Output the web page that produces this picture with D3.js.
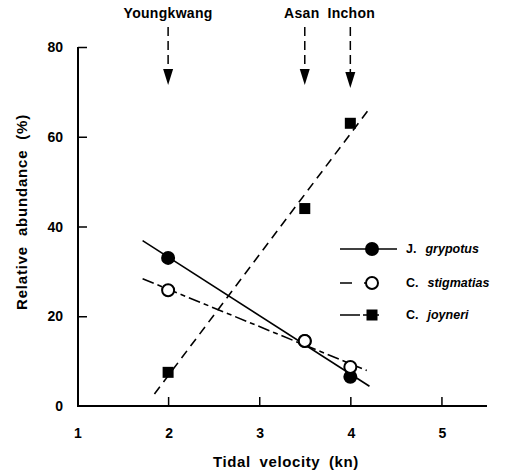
<!DOCTYPE html>
<html>
<head>
<meta charset="utf-8">
<script src="https://cdn.jsdelivr.net/npm/d3@7"></script>
<style>
  body { margin: 0; background: #fff; }
  text { font-family: "Liberation Sans", Arial, sans-serif; font-weight: bold; fill: #000; }
</style>
</head>
<body>
<div id="chart"></div>
<script>
const velocity = [2, 3.5, 4]
const grypotus = [33, 14.5, 6.5]
const stigmatias = [25.8, 14.5, 8.7]
const joyneri = [7.5, 44, 63]
const sites = ["Youngkwang", "Asan", "Inchon"]
const siteVelocity = [2, 3.5, 4]
const xTicks = [1, 2, 3, 4, 5]
const yTicks = [0, 20, 40, 60, 80]
// extent of each fitted line
const fitRange = {grypotus: [1.72, 4.21], stigmatias: [1.72, 4.18], joyneri: [1.85, 4.2]}

const width = 509, height = 475
const svg = d3.select("#chart").append("svg")
    .attr("width", width).attr("height", height)

const x = d3.scaleLinear().domain([1, 5.5]).range([77, 487])
const y = d3.scaleLinear().domain([0, 80]).range([406, 47])

// axes, ticks pointing inward
svg.append("g").attr("transform", "translate(0,406)")
    .call(d3.axisTop(x).tickValues(xTicks.slice(1)).tickSize(9).tickFormat(""))
    .call(g => g.select(".domain").remove())
    .selectAll("line").attr("stroke-width", 1.5)
svg.append("g").attr("transform", "translate(78,0)")
    .call(d3.axisRight(y).tickValues(yTicks.slice(1)).tickSize(9).tickFormat(""))
    .call(g => g.select(".domain").remove())
    .selectAll("line").attr("stroke-width", 1.5)
svg.append("line").attr("x1", 77).attr("x2", 487).attr("y1", 406).attr("y2", 406)
    .attr("stroke", "#000").attr("stroke-width", 2)
svg.append("line").attr("x1", 78).attr("x2", 78).attr("y1", 47).attr("y2", 407)
    .attr("stroke", "#000").attr("stroke-width", 2)

svg.selectAll(".xl").data(xTicks).join("text")
    .attr("x", d => x(d) + 1).attr("y", 438).attr("text-anchor", "middle")
    .attr("font-size", 14).text(d => d)
svg.selectAll(".yl").data(yTicks).join("text")
    .attr("x", 63).attr("y", d => y(d) + 5).attr("text-anchor", "end")
    .attr("font-size", 14).text(d => d)

svg.append("text").attr("x", 286).attr("y", 467).attr("text-anchor", "middle")
    .attr("font-size", 15).attr("word-spacing", 4).attr("letter-spacing", 0.6).text("Tidal velocity (kn)")
svg.append("text").attr("transform", "translate(27,212) rotate(-90)")
    .attr("text-anchor", "middle").attr("font-size", 15).attr("word-spacing", 5).attr("letter-spacing", 0.8)
    .text("Relative abundance (%)")

// least-squares fit
function fit(xs, ys) {
    const mx = d3.mean(xs), my = d3.mean(ys)
    const b = d3.sum(xs, (d, i) => (d - mx) * (ys[i] - my)) / d3.sum(xs, d => (d - mx) * (d - mx))
    return t => my + b * (t - mx)
}

const series = [
    {key: "grypotus", vals: grypotus, dash: null, marker: "circle", fill: "#000", genus: "J.", species: "grypotus"},
    {key: "stigmatias", vals: stigmatias, dash: "12,4,5,4", marker: "circle", fill: "#fff", genus: "C.", species: "stigmatias"},
    {key: "joyneri", vals: joyneri, dash: "9,6", marker: "square", fill: "#000", genus: "C.", species: "joyneri"}
]

series.forEach(s => {
    const f = fit(velocity, s.vals)
    const r = fitRange[s.key]
    svg.append("line")
        .attr("x1", x(r[0])).attr("y1", y(f(r[0])))
        .attr("x2", x(r[1])).attr("y2", y(f(r[1])))
        .attr("stroke", "#000").attr("stroke-width", 1.6)
        .attr("stroke-dasharray", s.dash)
})

function drawMarker(g, s, cx, cy) {
    if (s.marker == "circle")
        g.append("circle").attr("cx", cx).attr("cy", cy).attr("r", 6)
            .attr("fill", s.fill).attr("stroke", "#000").attr("stroke-width", 2)
    else
        g.append("rect").attr("x", cx - 5.5).attr("y", cy - 5.5).attr("width", 11).attr("height", 11)
            .attr("fill", "#000")
}

// open circles end up on top
;[series[2], series[0], series[1]].forEach(s => {
    velocity.forEach((v, i) => drawMarker(svg, s, x(v), y(s.vals[i])))
})

// legend
const legY = [249, 283, 315]
series.forEach((s, i) => {
    const g = svg.append("g")
    g.append("line").attr("x1", 340).attr("x2", 397).attr("y1", legY[i]).attr("y2", legY[i])
        .attr("stroke", "#000").attr("stroke-width", 1.6)
        .attr("stroke-dasharray", s.key == "stigmatias" ? "12,12,5,100" : s.dash ? "20,3,16" : null)
    drawMarker(g, s, 372, legY[i])
    const t = g.append("text").attr("x", 406).attr("y", legY[i] + 4).attr("font-size", 12.5)
    t.append("tspan").text(s.genus)
    t.append("tspan").attr("font-style", "italic").attr("dx", 9).text(s.species)
})

// site arrows
siteVelocity.forEach((v, i) => {
    const tip = i == 2 ? 88 : 85
    svg.append("line").attr("x1", x(v)).attr("x2", x(v)).attr("y1", 27).attr("y2", tip - 14)
        .attr("stroke", "#000").attr("stroke-width", 1.5).attr("stroke-dasharray", "9,5")
    svg.append("path")
        .attr("d", `M${x(v) - 5},${tip - 16} L${x(v) + 5},${tip - 16} L${x(v)},${tip} Z`)
        .attr("fill", "#000")
})
svg.append("text").attr("x", x(2)).attr("y", 18).attr("text-anchor", "middle")
    .attr("font-size", 14).attr("letter-spacing", 0.3).text(sites[0])
svg.append("text").attr("x", x(3.5) - 3).attr("y", 18).attr("text-anchor", "middle")
    .attr("font-size", 14).attr("letter-spacing", 0.3).text(sites[1])
svg.append("text").attr("x", x(4) + 1).attr("y", 18).attr("text-anchor", "middle")
    .attr("font-size", 14).attr("letter-spacing", 0.3).text(sites[2])
</script>
</body>
</html>
